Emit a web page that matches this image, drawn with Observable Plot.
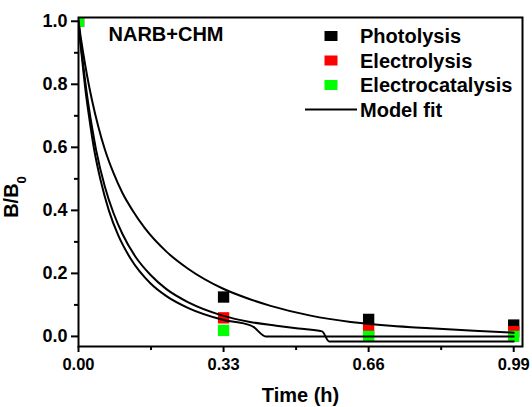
<!DOCTYPE html>
<html><head><meta charset="utf-8">
<script src="https://cdn.jsdelivr.net/npm/d3@7"></script>
<script src="https://cdn.jsdelivr.net/npm/@observablehq/plot@0.6"></script>
<style>
body{margin:0;background:#fff}
svg{font-family:"Liberation Sans",Arial,sans-serif;font-weight:bold}
</style>
</head><body><div id="chart"></div>
<script>
// ---- data ----
const times = [0, 0.33, 0.66, 0.99];
const photolysis = [1, 0.125, 0.054, 0.036];
const electrolysis = [1, 0.059, 0.022, 0.015];
const electrocatalysis = [1, 0.019, 0.0, 0.0];

const seriesNames = ["Photolysis", "Electrolysis", "Electrocatalysis"];
const seriesColors = ["#000000", "#ff0000", "#00ff00"];

// model fit curves
const fitAx = [0,0.005,0.01,0.02,0.03,0.045,0.06,0.08,0.1,0.122,0.15,0.2,0.25,0.328,0.39,0.437,0.528,0.619,0.71,0.8,0.9,0.99];
const fitAy = [1,0.95,0.905,0.824,0.754,0.666,0.593,0.517,0.455,0.402,0.345,0.269,0.214,0.152,0.118,0.097,0.066,0.046,0.034,0.026,0.018,0.012];
const fitBx = [0,0.005,0.01,0.02,0.03,0.04,0.06,0.08,0.1,0.13,0.164,0.2,0.25,0.328,0.39,0.45,0.5,0.554,0.57,0.99];
const fitBy = [1,0.93,0.87,0.76,0.67,0.592,0.475,0.39,0.325,0.252,0.195,0.15,0.108,0.066,0.046,0.034,0.025,0.016,-0.016,-0.016];
const fitCx = [0,0.004,0.008,0.016,0.025,0.035,0.05,0.069,0.09,0.118,0.164,0.2,0.25,0.328,0.391,0.398,0.426,0.99];
const fitCy = [1,0.937,0.882,0.78,0.688,0.598,0.497,0.40,0.322,0.248,0.168,0.128,0.09,0.053,0.035,0.030,0.0,0.0];

const xTicks = [0, 0.33, 0.66, 0.99];
const xMinor = [0.165, 0.495, 0.825];
const yTicks = [0, 0.2, 0.4, 0.6, 0.8, 1.0];
const yMinor = [0.1, 0.3, 0.5, 0.7, 0.9];

const titleText = "NARB+CHM";
const xLabel = "Time (h)";
const legendLabels = ["Photolysis", "Electrolysis", "Electrocatalysis", "Model fit"];

// ---- build tables ----
const points = [];
[photolysis, electrolysis, electrocatalysis].forEach((arr, s) => {
  arr.forEach((v, i) => points.push({t: times[i], v, s: seriesNames[s]}));
});
const fits = [];
[[fitAx, fitAy, "A"], [fitBx, fitBy, "B"], [fitCx, fitCy, "C"]].forEach(([xs, ys, k]) => {
  xs.forEach((x, i) => fits.push({x, y: ys[i], k}));
});

const plot = Plot.plot({
  width: 532,
  height: 407,
  marginLeft: 78,
  marginRight: 10,
  marginTop: 17,
  marginBottom: 61,
  style: {fontFamily: '"Liberation Sans", Arial, sans-serif', fontWeight: "bold", background: "white"},
  x: {domain: [0, 1.01]},
  y: {domain: [-0.032, 1.012]},
  color: {domain: seriesNames, range: seriesColors},
  marks: [
    Plot.dot(points, {x: "t", y: "v", fill: "s", symbol: "square", r: 6.4, stroke: null, clip: true}),
    Plot.line(fits, {x: "x", y: "y", z: "k", stroke: "black", strokeWidth: 2, curve: "monotone-x", clip: true}),
    Plot.axisX({ticks: xTicks, tickSize: 6, tickPadding: 6, tickFormat: d3.format(".2f"), fontSize: 16.5, strokeWidth: 2}),
    Plot.axisX({ticks: xMinor, tickSize: 4, tickFormat: () => "", strokeWidth: 2}),
    Plot.axisY({ticks: yTicks, tickSize: 7, tickPadding: 4, tickFormat: d3.format(".1f"), fontSize: 18, strokeWidth: 2}),
    Plot.axisY({ticks: yMinor, tickSize: 4, tickFormat: () => "", strokeWidth: 2}),
    Plot.frame({stroke: "black", strokeWidth: 2}),
    Plot.text([titleText], {frameAnchor: "top-left", dx: 30, dy: 9, text: d => d, textAnchor: "start", lineAnchor: "top", fontSize: 20, fontWeight: "bold"}),
    Plot.text([xLabel], {frameAnchor: "bottom", dy: 55, text: d => d, fontSize: 20, fontWeight: "bold"})
  ]
});
document.getElementById("chart").appendChild(plot);

// y-axis title with subscript
const svg = d3.select(plot);
const yt = svg.append("text")
  .attr("transform", "translate(18,197) rotate(-90)")
  .attr("text-anchor", "middle")
  .attr("font-size", 20)
  .attr("font-weight", "bold")
  .attr("fill", "black");
yt.append("tspan").text("B/B");
yt.append("tspan").attr("baseline-shift", "sub").attr("font-size", 13).text("0");

// legend
const lg = svg.append("g").attr("text-anchor", "start");
const rowY = [36, 60.5, 85, 109.5];
legendLabels.forEach((lab, i) => {
  const cy = rowY[i];
  if (i < 3) {
    lg.append("rect").attr("x", 324.5).attr("y", cy - 5).attr("width", 13).attr("height", 10).attr("fill", seriesColors[i]);
  } else {
    lg.append("line").attr("x1", 305).attr("x2", 357).attr("y1", cy).attr("y2", cy).attr("stroke", "black").attr("stroke-width", 2);
  }
  lg.append("text").attr("x", 360).attr("y", cy).attr("dy", "0.35em").attr("text-anchor", "start")
    .attr("font-size", 20).attr("font-weight", "bold").attr("fill", "black").text(lab);
});
</script></body></html>
